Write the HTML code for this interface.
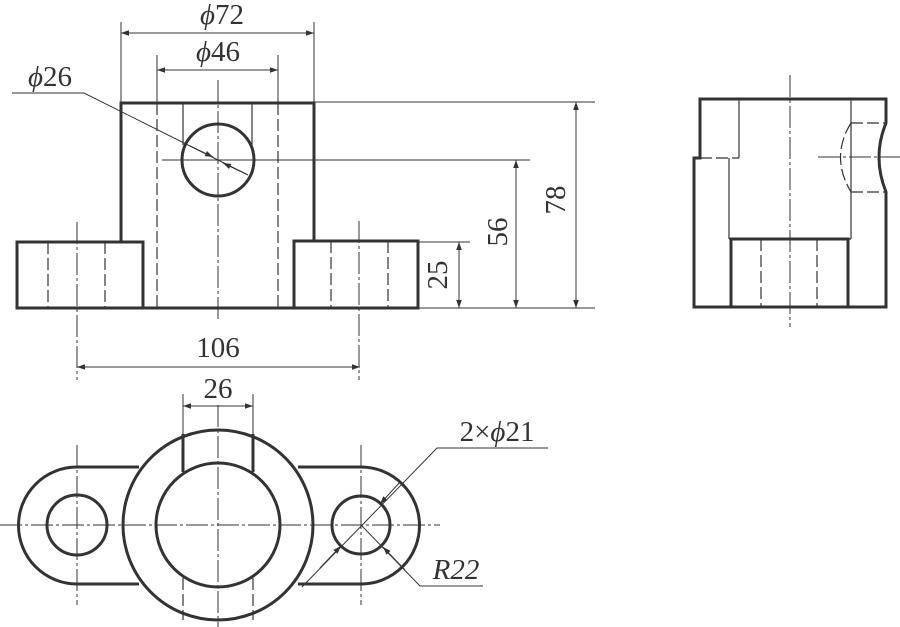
<!DOCTYPE html>
<html><head><meta charset="utf-8"><style>
html,body{margin:0;padding:0;background:#fff;}
svg{display:block;}
text{font-family:"Liberation Serif",serif;fill:#333;}
</style></head><body>
<svg width="900" height="627" viewBox="0 0 900 627" xmlns="http://www.w3.org/2000/svg">
<defs>
<marker id="a" viewBox="0 0 10 10" refX="10" refY="5" markerWidth="22" markerHeight="8" markerUnits="userSpaceOnUse" orient="auto-start-reverse"><path d="M0,1.5 L10,5 L0,8.5 z" fill="#333"/></marker>
</defs>
<g stroke="#333" fill="none">
<g stroke-width="3">
<path d="M121,242 V103 H314 V242"/>
<rect x="17" y="242" width="126" height="66"/>
<rect x="294" y="241" width="124" height="67"/>
<line x1="143" y1="308" x2="294" y2="308"/>
<circle cx="218" cy="160" r="36"/>
</g>
<g stroke-width="1.2">
<line x1="183" y1="103" x2="183" y2="145"/>
<line x1="252" y1="103" x2="252" y2="145"/>
</g>
<g stroke-width="1.2" stroke-dasharray="12,4">
<line x1="157" y1="103" x2="157" y2="308"/>
<line x1="278" y1="103" x2="278" y2="308"/>
<line x1="48" y1="242" x2="48" y2="308"/>
<line x1="105" y1="242" x2="105" y2="308"/>
<line x1="331" y1="241" x2="331" y2="308"/>
<line x1="388" y1="241" x2="388" y2="308"/>
</g>
<g stroke-width="1" stroke-dasharray="22,3,3,3">
<line x1="218" y1="80" x2="218" y2="320"/>
<line x1="77" y1="222" x2="77" y2="380"/>
<line x1="359" y1="221" x2="359" y2="380"/>
</g>
<g stroke-width="1">
<line x1="121" y1="22" x2="121" y2="103"/>
<line x1="314" y1="22" x2="314" y2="103"/>
<line x1="121" y1="33" x2="314" y2="33" marker-start="url(#a)" marker-end="url(#a)"/>
<line x1="157" y1="55" x2="157" y2="103"/>
<line x1="278" y1="55" x2="278" y2="103"/>
<line x1="157" y1="70" x2="278" y2="70" marker-start="url(#a)" marker-end="url(#a)"/>
<polyline points="12,93 84,93 248,175"/>
<line x1="190" y1="146" x2="213" y2="157" marker-end="url(#a)"/>
<line x1="246" y1="174" x2="223" y2="163" marker-end="url(#a)"/>
<line x1="162" y1="160" x2="530" y2="160"/>
<line x1="314" y1="102" x2="595" y2="102"/>
<line x1="418" y1="242" x2="470" y2="242"/>
<line x1="418" y1="308" x2="595" y2="308"/>
<line x1="459" y1="242" x2="459" y2="308" marker-start="url(#a)" marker-end="url(#a)"/>
<line x1="516" y1="160" x2="516" y2="308" marker-start="url(#a)" marker-end="url(#a)"/>
<line x1="576" y1="102" x2="576" y2="308" marker-start="url(#a)" marker-end="url(#a)"/>
<line x1="77" y1="367" x2="360" y2="367" marker-start="url(#a)" marker-end="url(#a)"/>
</g>
<g stroke-width="3">
<path d="M700,158 V99 H886 V123 Q872,157 886,192 V307 H694 V158 Z"/>
<rect x="731" y="239" width="117" height="68"/>
</g>
<g stroke-width="1.2">
<line x1="739" y1="99" x2="739" y2="158"/>
<line x1="729" y1="158" x2="729" y2="239"/>
<line x1="851" y1="99" x2="851" y2="239"/>
<line x1="729" y1="239" x2="851" y2="239"/>
</g>
<g stroke-width="1.2" stroke-dasharray="12,4">
<line x1="700" y1="158" x2="739" y2="158"/>
<line x1="851" y1="123" x2="886" y2="123"/>
<line x1="851" y1="192" x2="886" y2="192"/>
<path d="M851,123 Q830,157 851,192"/>
<line x1="761" y1="239" x2="761" y2="307"/>
<line x1="817" y1="239" x2="817" y2="307"/>
</g>
<g stroke-width="1" stroke-dasharray="22,3,3,3">
<line x1="790" y1="75" x2="790" y2="327"/>
<line x1="818" y1="157" x2="900" y2="157"/>
</g>
<g stroke-width="3">
<path d="M139,467 H77 A58.5,58.5 0 0 0 77,584 H139"/>
<path d="M298,467 H361 A58.5,58.5 0 0 1 361,584 H298"/>
<circle cx="218" cy="525" r="95"/>
<circle cx="218" cy="525" r="62"/>
<circle cx="77" cy="525" r="30"/>
<circle cx="361" cy="525" r="29"/>
<line x1="183" y1="434" x2="183" y2="472"/>
<line x1="253" y1="434" x2="253" y2="472"/>
</g>
<g stroke-width="1.2" stroke-dasharray="12,4">
<line x1="183" y1="578" x2="183" y2="620"/>
<line x1="253" y1="578" x2="253" y2="620"/>
</g>
<g stroke-width="1" stroke-dasharray="22,3,3,3">
<line x1="0" y1="525" x2="440" y2="525"/>
<line x1="218" y1="405" x2="218" y2="627"/>
<line x1="77" y1="445" x2="77" y2="605"/>
<line x1="361" y1="445" x2="361" y2="605"/>
</g>
<g stroke-width="1">
<line x1="183" y1="394" x2="183" y2="434"/>
<line x1="253" y1="394" x2="253" y2="434"/>
<line x1="183" y1="406" x2="253" y2="406" marker-start="url(#a)" marker-end="url(#a)"/>
<polyline points="302,587 437,448 548,448"/>
<line x1="320" y1="568" x2="341" y2="546" marker-end="url(#a)"/>
<line x1="400" y1="482" x2="380" y2="504" marker-end="url(#a)"/>
<polyline points="361,525 420,586 483,586"/>
<line x1="405" y1="570" x2="383" y2="547" marker-end="url(#a)"/>
</g>
</g>
<g font-size="29">
<text x="222" y="24" text-anchor="middle"><tspan font-style="italic">ϕ</tspan>72</text>
<text x="218" y="61" text-anchor="middle"><tspan font-style="italic">ϕ</tspan>46</text>
<text x="50" y="86" text-anchor="middle"><tspan font-style="italic">ϕ</tspan>26</text>
<text x="218" y="357" text-anchor="middle">106</text>
<text x="218" y="398" text-anchor="middle">26</text>
<text x="497" y="441" text-anchor="middle">2×<tspan font-style="italic">ϕ</tspan>21</text>
<text x="456" y="579" text-anchor="middle" font-style="italic">R22</text>
<text transform="translate(447,275) rotate(-90)" text-anchor="middle">25</text>
<text transform="translate(507,232) rotate(-90)" text-anchor="middle">56</text>
<text transform="translate(565,200) rotate(-90)" text-anchor="middle">78</text>
</g>
</svg>
</body></html>
